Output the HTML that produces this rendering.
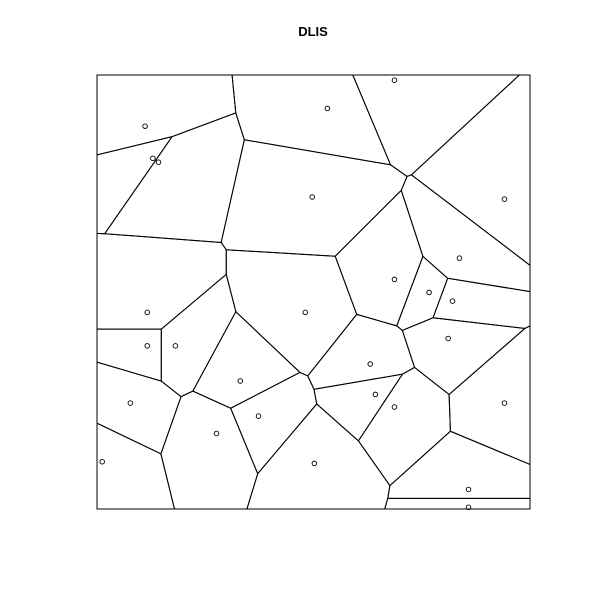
<!DOCTYPE html>
<html><head><meta charset="utf-8"><style>
html,body{margin:0;padding:0;background:#fff;width:600px;height:600px;overflow:hidden}
svg{display:block}
</style></head><body>
<svg id="chart" width="600" height="600" viewBox="0 0 600 600" xmlns="http://www.w3.org/2000/svg">
<text x="313" y="36" text-anchor="middle" font-family="Liberation Sans, sans-serif" font-weight="bold" font-size="13">DLIS</text>
<g id="cells"></g>
<g id="pts"></g>
<rect x="97" y="75" width="433" height="434" fill="none" stroke="#000" stroke-width="1"/>
</svg>
<script>
const xs = [11.1,12.9,14.2,53.2,68.7,49.7,94.1,83.7,68.7,76.7,82.1,11.6,48.1,81.1,11.6,18.1,63.1,33.1,64.3,7.7,37.3,68.7,94.1,27.6,1.2,50.2,85.8,85.8];
const ys = [88.2,80.8,79.9,92.3,98.8,71.9,71.4,57.8,52.9,49.9,47.9,45.3,45.3,39.3,37.6,37.6,33.4,29.5,26.4,24.4,21.4,23.5,24.4,17.4,10.9,10.5,4.5,0.4];

const X0=97,X1=530,Y0=509,Y1=75;
function sx(v){return X0+v/100*(X1-X0);}
function sy(v){return Y0-v/100*(Y0-Y1);}
const NS='http://www.w3.org/2000/svg';
const P=xs.map((x,i)=>[sx(x),sy(ys[i])]);

function clip(poly,a,b,c){ // keep a*x+b*y<=c
  const out=[];
  for(let i=0;i<poly.length;i++){
    const p=poly[i],q=poly[(i+1)%poly.length];
    const fp=a*p[0]+b*p[1]-c, fq=a*q[0]+b*q[1]-c;
    if(fp<=0) out.push(p);
    if((fp<0&&fq>0)||(fp>0&&fq<0)){
      const t=fp/(fp-fq);
      out.push([p[0]+t*(q[0]-p[0]),p[1]+t*(q[1]-p[1])]);
    }
  }
  return out;
}
const cellsG=document.getElementById('cells');
const ptsG=document.getElementById('pts');
P.forEach((p,i)=>{
  let poly=[[X0,Y1],[X1,Y1],[X1,Y0],[X0,Y0]];
  P.forEach((q,j)=>{
    if(i===j)return;
    const a=q[0]-p[0],b=q[1]-p[1];
    const c=(q[0]*q[0]+q[1]*q[1]-p[0]*p[0]-p[1]*p[1])/2;
    poly=clip(poly,a,b,c);
  });
  const pg=document.createElementNS(NS,'polygon');
  pg.setAttribute('points',poly.map(v=>v[0].toFixed(2)+','+v[1].toFixed(2)).join(' '));
  pg.setAttribute('fill','none');pg.setAttribute('stroke','#000');pg.setAttribute('stroke-width','1');
  
  
  cellsG.appendChild(pg);
  const c=document.createElementNS(NS,'circle');
  c.setAttribute('cx',p[0]);c.setAttribute('cy',p[1]);c.setAttribute('r','2.3');
  c.setAttribute('fill','none');c.setAttribute('stroke','#000');c.setAttribute('stroke-width','0.9');
  
  
  ptsG.appendChild(c);
});
</script>
</body></html>
